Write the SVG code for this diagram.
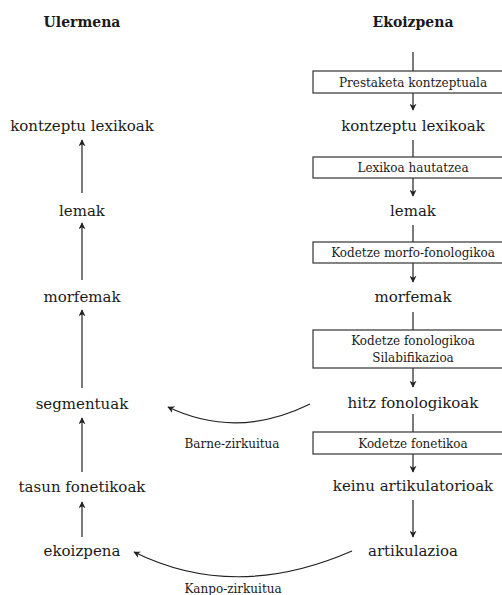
<svg xmlns="http://www.w3.org/2000/svg" width="502" height="595" viewBox="0 0 502 595">
<style>
text{font-family:"DejaVu Serif","Liberation Serif",serif;fill:#1a1a1a;text-anchor:middle}
.h{font-weight:bold;font-size:14px}
.m{font-size:15px}
.b{font-size:12px}
.box{fill:#fff;stroke:#333;stroke-width:1.2}
.ln{fill:none;stroke:#222;stroke-width:1.2}
.ar{fill:none;stroke:#222;stroke-width:1.2;marker-end:url(#ah)}
</style>
<defs>
<marker id="ah" viewBox="0 0 10 10" refX="9" refY="5" markerWidth="7" markerHeight="7" markerUnits="userSpaceOnUse" orient="auto">
<path d="M0,0 L10,5 L0,10 L3,5 z" fill="#222"/>
</marker>
</defs>
<g id="headers">
<text class="h" x="82" y="27">Ulermena</text>
<text class="h" x="413" y="27">Ekoizpena</text>
</g>
<g id="connectors">
<line class="ln" x1="413" y1="52" x2="413" y2="71"/>
<line class="ar" x1="413" y1="93" x2="413" y2="110"/>
<line class="ln" x1="413" y1="140" x2="413" y2="157"/>
<line class="ar" x1="413" y1="178" x2="413" y2="196"/>
<line class="ln" x1="413" y1="225" x2="413" y2="242"/>
<line class="ar" x1="413" y1="263" x2="413" y2="282"/>
<line class="ln" x1="413" y1="312" x2="413" y2="330"/>
<line class="ar" x1="413" y1="368" x2="413" y2="387"/>
<line class="ln" x1="413" y1="414" x2="413" y2="432"/>
<line class="ar" x1="413" y1="454" x2="413" y2="472"/>
<line class="ar" x1="413" y1="500" x2="413" y2="537"/>
<line class="ar" x1="82" y1="193" x2="82" y2="140"/>
<line class="ar" x1="82" y1="280" x2="82" y2="223"/>
<line class="ar" x1="82" y1="388" x2="82" y2="310"/>
<line class="ar" x1="82" y1="472" x2="82" y2="418"/>
<line class="ar" x1="82" y1="537" x2="82" y2="502"/>
<path class="ar" d="M310,404 Q237,440 168,407"/>
<path class="ar" d="M352,551 Q235,602 134,552"/>
<text class="b" x="232" y="448">Barne-zirkuitua</text>
<text class="b" x="233" y="593">Kanpo-zirkuitua</text>
</g>
<g id="box1"><rect class="box" x="313" y="71" width="201" height="22"/><text class="b" x="413" y="86.5">Prestaketa kontzeptuala</text></g>
<g id="box2"><rect class="box" x="313" y="157" width="201" height="21"/><text class="b" x="413" y="172">Lexikoa hautatzea</text></g>
<g id="box3"><rect class="box" x="313" y="242" width="201" height="21"/><text class="b" x="413" y="257">Kodetze morfo-fonologikoa</text></g>
<g id="box4"><rect class="box" x="313" y="330" width="201" height="38"/><text class="b" x="413" y="345">Kodetze fonologikoa</text><text class="b" x="413" y="362">Silabifikazioa</text></g>
<g id="box5"><rect class="box" x="313" y="432" width="201" height="22"/><text class="b" x="413" y="447.5">Kodetze fonetikoa</text></g>
<g id="r1"><text class="m" x="413" y="131">kontzeptu lexikoak</text></g>
<g id="r2"><text class="m" x="413" y="216">lemak</text></g>
<g id="r3"><text class="m" x="413" y="302">morfemak</text></g>
<g id="r4"><text class="m" x="413" y="408">hitz fonologikoak</text></g>
<g id="r5"><text class="m" x="413" y="491">keinu artikulatorioak</text></g>
<g id="r6"><text class="m" x="413" y="556">artikulazioa</text></g>
<g id="l1"><text class="m" x="82" y="131">kontzeptu lexikoak</text></g>
<g id="l2"><text class="m" x="82" y="216">lemak</text></g>
<g id="l3"><text class="m" x="82" y="302">morfemak</text></g>
<g id="l4"><text class="m" x="82" y="409">segmentuak</text></g>
<g id="l5"><text class="m" x="82" y="492">tasun fonetikoak</text></g>
<g id="l6"><text class="m" x="82" y="556">ekoizpena</text></g>
</svg>
